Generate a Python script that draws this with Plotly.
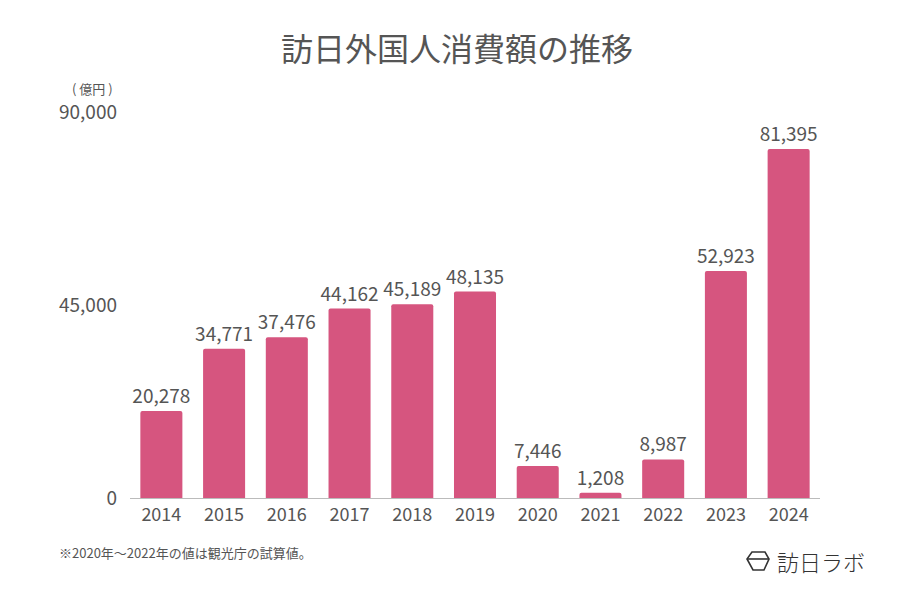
import plotly.graph_objects as go

years = ["2014", "2015", "2016", "2017", "2018", "2019", "2020", "2021", "2022", "2023", "2024"]
spend = [20278, 34771, 37476, 44162, 45189, 48135, 7446, 1208, 8987, 52923, 81395]
y_ticks = [0, 45000, 90000]

FONT = "Noto Sans CJK JP"
GRAY = "#555555"
BAR = "#d6557f"

fig = go.Figure()
fig.add_trace(go.Bar(
    x=years, y=spend,
    marker=dict(color=BAR, cornerradius=2, line=dict(width=0)),
    texttemplate="%{y:,}", textposition="outside", cliponaxis=False,
    constraintext="none",
    textfont=dict(size=19, color=GRAY, family=FONT),
    hoverinfo="skip",
))

# page body has an 8px margin, so the figure is a bit smaller than the window
fig.update_layout(
    width=898, height=585,
    margin=dict(l=122, r=86, t=104, b=95),
    paper_bgcolor="white", plot_bgcolor="white",
    bargap=0.33,
    showlegend=False,
    font=dict(family=FONT, color=GRAY),
    title=dict(text="訪日外国人消費額の推移", x=0.5, xanchor="center", y=0.928, yanchor="middle",
               font=dict(size=32, color=GRAY, family=FONT)),
    xaxis=dict(showline=True, linecolor="#bbbbbb", linewidth=1, ticks="",
               tickfont=dict(size=18, color=GRAY), showgrid=False),
    yaxis=dict(range=[0, 90000], tickvals=y_ticks, tickformat=",", showgrid=False,
               zeroline=False, showline=False, ticks="", ticklabelstandoff=12,
               tickfont=dict(size=19, color=GRAY)),
)

fig.add_annotation(text="( 億円 )", xref="paper", yref="paper", x=-0.055, y=1.062,
                   xanchor="center", yanchor="middle", showarrow=False,
                   font=dict(size=13, color=GRAY, family=FONT))
fig.add_annotation(text="※2020年～2022年の値は観光庁の試算値。", xref="paper", yref="paper",
                   x=-0.106, y=-0.14, xanchor="left", yanchor="middle", showarrow=False,
                   font=dict(size=13, color=GRAY, family=FONT))
fig.add_annotation(text="訪日ラボ", xref="paper", yref="paper", x=1.068, y=-0.163,
                   xanchor="right", yanchor="middle", showarrow=False,
                   font=dict(size=22, color="#333333", family=FONT, weight=300))
# logo icon
fig.add_shape(type="path", xref="paper", yref="paper",
              path="M 0.9014 -0.1399 L 0.9203 -0.1399 L 0.9261 -0.158 L 0.9188 -0.1865 "
                   "L 0.9029 -0.1865 L 0.8942 -0.158 Z",
              line=dict(color="#333333", width=1.6))
fig.add_shape(type="line", xref="paper", yref="paper", x0=0.8942, x1=0.9261, y0=-0.158, y1=-0.158,
              line=dict(color="#333333", width=1.6))

fig.write_html("out.html")
